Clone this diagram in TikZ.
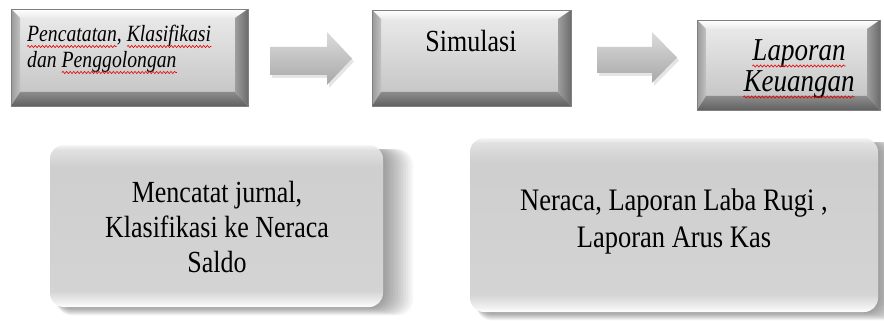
\documentclass[tikz,border=0pt]{standalone}
\usepackage{fontspec}
\setmainfont{Liberation Serif}
\usetikzlibrary{calc,decorations.pathmorphing}
\newcommand\vstretch[1]{\scalebox{1}[1.18]{#1}}
\newcommand\smallital{\fontsize{19.7}{22}\selectfont\itshape}
\newlength\wPenc
\newlength\wKlas
\newlength\wPeng
\pgfdeclareverticalshading{softface}{100bp}{color(0bp)=(white); color(25bp)=(white); color(26.5bp)=(black!6); color(30bp)=(black!17); color(68bp)=(black!19); color(73.5bp)=(black!12); color(75bp)=(black!4); color(100bp)=(black!4)}
\tikzset{
  lbl/.style={inner sep=0, anchor=base},
  lblleft/.style={inner sep=0, anchor=base west},
  spell/.style={red!90!black, line width=0.6pt, decorate,
    decoration={snake, amplitude=1.1pt, segment length=3.6pt}}
}
% bevel box: name, x1, y1, x2, y2 (image pixels, y downwards)
\newcommand\bevelbox[5]{%
  \coordinate (#1-nw) at (#2,#3);
  \coordinate (#1-se) at (#4,#5);
  \shade[top color=black!9,bottom color=black!22] (#2+9,#3+9) rectangle (#4-13,#5-14);
  \shade[top color=white,bottom color=black!8] (#2,#3) -- (#4,#3) -- (#4-13,#3+9) -- (#2+9,#3+9) -- cycle;
  \shade[left color=black!40,right color=black!24] (#2,#3) -- (#2+9,#3+9) -- (#2+9,#5-14) -- (#2,#5) -- cycle;
  \shade[left color=black!38,right color=black!58] (#4,#3) -- (#4,#5) -- (#4-13,#5-14) -- (#4-13,#3+9) -- cycle;
  \shade[top color=black!45,bottom color=black!62] (#2,#5) -- (#4,#5) -- (#4-13,#5-14) -- (#2+9,#5-14) -- cycle;
  \draw[black!50,line width=0.6pt] (#2,#3) rectangle (#4,#5);
}
% block arrow: name, x0, xh, xt, shaft top, shaft bottom, head top, head bottom
\newcommand\blockarrow[8]{%
  \coordinate (#1-tail) at (#2,{(#7+#8)/2});
  \coordinate (#1-tip) at (#4,{(#7+#8)/2});
  \fill[black,opacity=0.10] (#2+2,#5+3) -- (#3+2,#5+3) -- (#3+2,#7+3) -- (#4+2,{(#7+#8)/2+3}) -- (#3+2,#8+3) -- (#3+2,#6+3) -- (#2+2,#6+3) -- cycle;
  \shade[top color=black!14,bottom color=black!34] (#2,#5) -- (#3,#5) -- (#3,#7) -- (#4,{(#7+#8)/2}) -- (#3,#8) -- (#3,#6) -- (#2,#6) -- cycle;
}
% soft rounded box with shadow: name, x1, y1, x2, y2
\newcommand\softbox[5]{%
  \coordinate (#1-nw) at (#2,#3);
  \coordinate (#1-se) at (#4,#5);
  \foreach \i in {1,...,12} {
    \fill[black,opacity=0.035,rounded corners=16] (#2+6,#3+4) rectangle (#4+\i*2.5,#5+\i*0.7);
  }
  \shade[shading=softface,rounded corners=14] (#2,#3) rectangle (#4,#5);
}
\begin{document}
\settowidth\wPenc{\smallital Pencatatan}%
\settowidth\wKlas{\smallital Klasifikasi}%
\settowidth\wPeng{\smallital Penggolongan}%
\begin{tikzpicture}[x=1pt,y=-1pt]
\useasboundingbox (0,0) rectangle (884,321);
\fill[white] (0,0) rectangle (884,321);

\bevelbox{B1}{11}{9}{248}{106}
\bevelbox{B2}{372}{10}{571}{106}
\bevelbox{B3}{697}{20}{880}{110}

\blockarrow{A1}{270}{327}{352}{47}{75}{32}{85}
\blockarrow{A2}{597}{652}{677}{47}{73}{32}{83}

\softbox{D1}{50}{145}{383}{307}
\softbox{D2}{470}{138}{878}{312}

\begin{scope}[font=\smallital]
\node[lblleft] (b1a) at (27,42) {\vstretch{Pencatatan, Klasifikasi}};
\node[lblleft] (b1b) at (27,68) {\vstretch{dan Penggolongan}};
\end{scope}
\draw[spell] ($(b1a.base west)+(0pt,-4.5pt)$) -- ($(b1a.base west)+(\wPenc,-4.5pt)$);
\draw[spell] ($(b1a.base east)+(-\wKlas,-4.5pt)$) -- ($(b1a.base east)+(0pt,-4.5pt)$);
\draw[spell] ($(b1b.base east)+(-\wPeng,-4.5pt)$) -- ($(b1b.base east)+(0pt,-4.5pt)$);

\node[lbl, font=\fontsize{26}{30}\selectfont] (b2) at (471,52) {\vstretch{Simulasi}};

\begin{scope}[font=\fontsize{27}{32}\selectfont\itshape]
\node[lbl] (b3a) at (799,61) {\vstretch{Laporan}};
\node[lbl] (b3b) at (799,92) {\vstretch{Keuangan}};
\end{scope}
\draw[spell] ($(b3a.base west)+(0pt,-5pt)$) -- ($(b3a.base east)+(0pt,-5pt)$);
\draw[spell] ($(b3b.base west)+(0pt,-5pt)$) -- ($(b3b.base east)+(0pt,-5pt)$);

\begin{scope}[font=\fontsize{26}{36}\selectfont]
\node[lbl] (d1a) at (217,202) {\vstretch{Mencatat jurnal,}};
\node[lbl] (d1b) at (217,237) {\vstretch{Klasifikasi ke Neraca}};
\node[lbl] (d1c) at (217,272) {\vstretch{Saldo}};
\end{scope}
\begin{scope}[font=\fontsize{26.5}{37}\selectfont]
\node[lbl] (d2a) at (674,210) {\vstretch{Neraca, Laporan Laba Rugi ,}};
\node[lbl] (d2b) at (674,247) {\vstretch{Laporan Arus Kas}};
\end{scope}
\end{tikzpicture}
\end{document}
